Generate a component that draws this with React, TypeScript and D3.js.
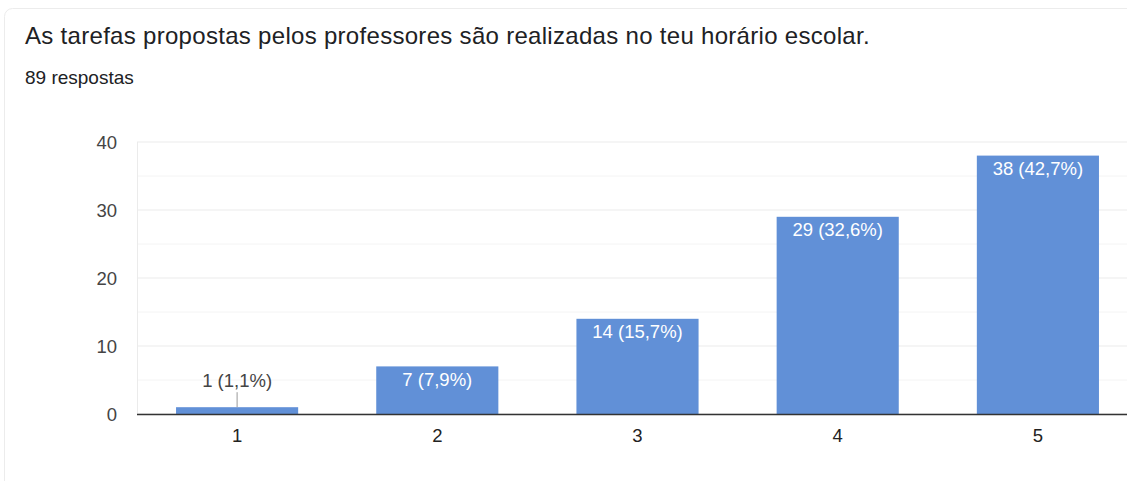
import React from "react";
import * as d3 from "d3";

const WIDTH = 1127;
const HEIGHT = 481;
const MARGIN = { top: 142, right: -11, bottom: 67, left: 137 };

const categories = ["1", "2", "3", "4", "5"];
const counts = [1, 7, 14, 29, 38];
const percents = ["1,1%", "7,9%", "15,7%", "32,6%", "42,7%"];
const majorTicks = [0, 10, 20, 30, 40];
const minorTicks = [5, 15, 25, 35];

const TITLE = "As tarefas propostas pelos professores são realizadas no teu horário escolar.";
const SUBTITLE = "89 respostas";

const BAR_COLOR = "#6190d7";
const FONT = "'Liberation Sans', Arial, sans-serif";

export default function App() {
  const boundsWidth = WIDTH - MARGIN.left - MARGIN.right;
  const boundsHeight = HEIGHT - MARGIN.top - MARGIN.bottom;

  const xScale = d3
    .scaleBand<string>()
    .domain(categories)
    .range([0, boundsWidth])
    .paddingInner(0.39)
    .paddingOuter(0.195);

  const yScale = d3.scaleLinear().domain([0, 40]).range([boundsHeight, 0]);

  return (
    <svg
      width={WIDTH}
      height={HEIGHT}
      style={{ position: "absolute", left: 0, top: 0, background: "#fff" }}
      fontFamily={FONT}
    >
      {/* card outline */}
      <rect
        x={4.5}
        y={8.5}
        width={WIDTH + 10}
        height={HEIGHT + 10}
        fill="#fff"
        stroke="#ececec"
        rx={8}
      />
      <text x={25} y={44} fontSize={24} letterSpacing={0.3} fill="#202124">
        {TITLE}
      </text>
      <text x={25} y={84} fontSize={19} fill="#202124">
        {SUBTITLE}
      </text>

      <g transform={`translate(${MARGIN.left},${MARGIN.top})`}>
        {minorTicks.map((t) => (
          <line
            key={"m" + t}
            x1={0}
            x2={WIDTH}
            y1={yScale(t)}
            y2={yScale(t)}
            stroke="#f4f4f4"
          />
        ))}
        {majorTicks.map((t) => (
          <g key={t}>
            <line x1={0} x2={WIDTH} y1={yScale(t)} y2={yScale(t)} stroke="#ebebeb" />
            <text
              x={-20}
              y={yScale(t)}
              dy="0.36em"
              textAnchor="end"
              fontSize={18.5}
              fill="#444"
            >
              {t}
            </text>
          </g>
        ))}
        <line x1={0.5} x2={0.5} y1={0} y2={boundsHeight} stroke="#ebebeb" />

        {categories.map((c, i) => {
          const x = xScale(c) as number;
          const bw = xScale.bandwidth();
          const y = yScale(counts[i]);
          const h = boundsHeight - y;
          const cx = x + bw / 2;
          const label = `${counts[i]} (${percents[i]})`;
          const inside = h > 24;
          return (
            <g key={c}>
              <rect x={x} y={y} width={bw} height={h} fill={BAR_COLOR} />
              {inside ? (
                <text
                  x={cx}
                  y={y + 19.5}
                  textAnchor="middle"
                  fontSize={18.5}
                  fill="#fff"
                >
                  {label}
                </text>
              ) : (
                <>
                  <line x1={cx} x2={cx} y1={y - 15} y2={y} stroke="#999" />
                  <text
                    x={cx}
                    y={y - 20}
                    textAnchor="middle"
                    fontSize={18.5}
                    fill="#444"
                  >
                    {label}
                  </text>
                </>
              )}
              <text
                x={cx}
                y={boundsHeight + 28}
                textAnchor="middle"
                fontSize={18.5}
                fill="#222"
              >
                {c}
              </text>
            </g>
          );
        })}

        <line
          x1={0}
          x2={WIDTH}
          y1={boundsHeight + 0.5}
          y2={boundsHeight + 0.5}
          stroke="#333"
          strokeWidth={1.5}
        />
      </g>
    </svg>
  );
}
